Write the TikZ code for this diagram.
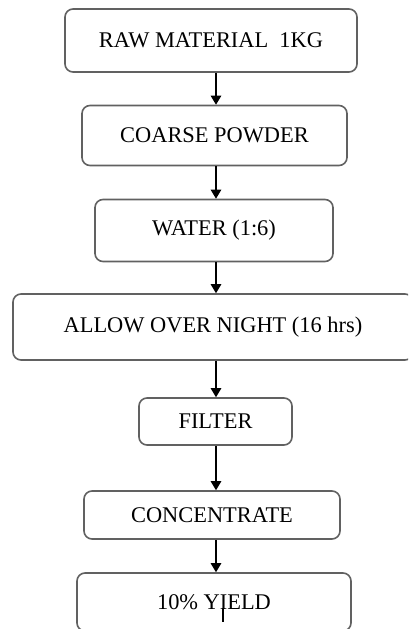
\documentclass[tikz,border=0pt]{standalone}
\usepackage{fontspec}
\setmainfont{Liberation Serif}
\usetikzlibrary{arrows.meta}
\begin{document}
\begin{tikzpicture}[x=1pt,y=-1pt,
  stepbox/.style={draw=black!62, line width=1.6pt, rounded corners=8pt,
    fill=white, inner sep=0pt, font=\fontsize{22.4}{25}\selectfont},
  arr/.style={line width=1.3pt, -{Triangle[length=9pt,width=10.5pt]}}]
  \useasboundingbox (0,0) rectangle (408,629);
  \clip (0,0) rectangle (408,629);
  % process steps, top to bottom
  \node[stepbox, minimum width=292pt, minimum height=63pt] (raw) at (211,40.5) {RAW MATERIAL\ \ 1KG};
  \node[stepbox, minimum width=265pt, minimum height=60pt] (powder) at (214.5,135.5) {COARSE POWDER};
  \node[stepbox, minimum width=238pt, minimum height=62pt] (water) at (214,230.5) {WATER (1:6)};
  \node[stepbox, minimum width=400pt, minimum height=66pt] (night) at (213,327) {ALLOW OVER NIGHT (16 hrs)};
  \node[stepbox, minimum width=153pt, minimum height=47pt] (filter) at (215.5,421.5) {FILTER};
  \node[stepbox, minimum width=256pt, minimum height=48pt] (conc) at (212,515) {CONCENTRATE};
  \node[stepbox, minimum width=274pt, minimum height=58pt] (yield) at (214,602) {10\% YIELD};
  % vertical arrows share one axis
  \coordinate (ax) at (216,0);
  \draw[arr] (raw.south -| ax) -- (powder.north -| ax);
  \draw[arr] (powder.south -| ax) -- (water.north -| ax);
  \draw[arr] (water.south -| ax) -- (night.north -| ax);
  \draw[arr] (night.south -| ax) -- (filter.north -| ax);
  \draw[arr] (filter.south -| ax) -- (conc.north -| ax);
  \draw[arr] (conc.south -| ax) -- (yield.north -| ax);
  % text cursor mark
  \draw[line width=2pt] (223,608) -- (223,622);
\end{tikzpicture}
\end{document}
